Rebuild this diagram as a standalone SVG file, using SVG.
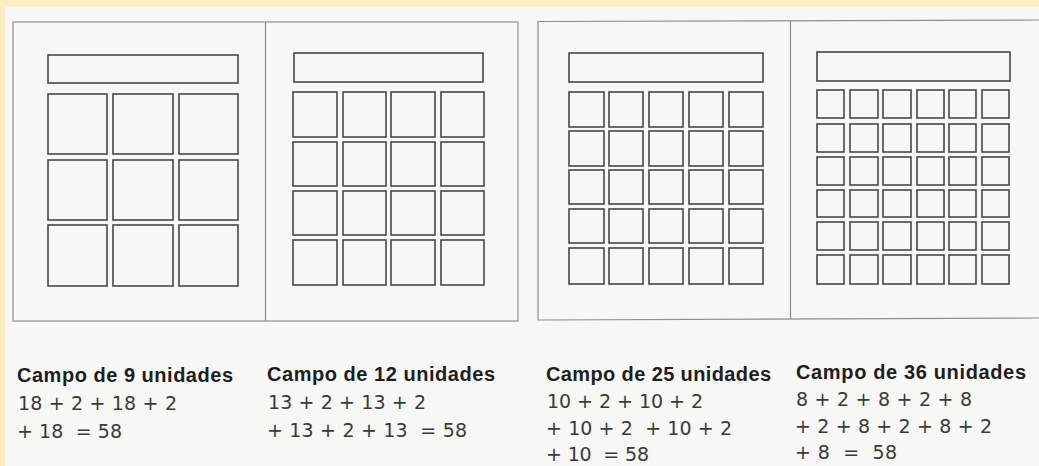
<svg xmlns="http://www.w3.org/2000/svg" width="1039" height="466" viewBox="0 0 1039 466">
  <style>
    .bg { fill: #f7f7f6; }
    .band { fill: #fcefc3; }
    .frame { fill: none; stroke: #8e8e8e; stroke-width: 1.2; }
    .cell { fill: none; stroke: #484848; stroke-width: 1.6; }
    .t { white-space: pre; }
    .b { font-family: "Liberation Sans", Arial, sans-serif; font-size: 20px; font-weight: bold; fill: #1e1e1e; }
    .r { font-family: "DejaVu Sans", "Liberation Sans", sans-serif; font-size: 19px; fill: #3a3a3a; }
  </style>
  <rect class="bg" x="0" y="0" width="1039" height="466"/>
  <rect class="band" x="0" y="0" width="1039" height="7"/>
  <rect class="band" x="0" y="0" width="5" height="466"/>

  <g id="frame-left">
    <rect class="frame" x="13" y="22" width="505" height="299"/>
    <line class="frame" x1="265.5" y1="22" x2="265.5" y2="321"/>
  </g>
  <g id="frame-right">
    <polyline class="frame" points="1039,20 538,21.5 538,320 1039,318"/>
    <line class="frame" x1="790.5" y1="21" x2="790.5" y2="319"/>
  </g>

  <g id="campo-9">
    <rect class="cell" x="48" y="55" width="190" height="28"/>
    <rect class="cell" x="48" y="94" width="59" height="60"/>
    <rect class="cell" x="113" y="94" width="60" height="60"/>
    <rect class="cell" x="179" y="94" width="59" height="60"/>
    <rect class="cell" x="48" y="160" width="59" height="60"/>
    <rect class="cell" x="113" y="160" width="60" height="60"/>
    <rect class="cell" x="179" y="160" width="59" height="60"/>
    <rect class="cell" x="48" y="225" width="59" height="61"/>
    <rect class="cell" x="113" y="225" width="60" height="61"/>
    <rect class="cell" x="179" y="225" width="59" height="61"/>
  </g>

  <g id="campo-12">
    <rect class="cell" x="294" y="53" width="189" height="29"/>
    <rect class="cell" x="293" y="92" width="44" height="45"/>
    <rect class="cell" x="343" y="92" width="43" height="45"/>
    <rect class="cell" x="391" y="92" width="44" height="45"/>
    <rect class="cell" x="441" y="92" width="43" height="45"/>
    <rect class="cell" x="293" y="142" width="44" height="44"/>
    <rect class="cell" x="343" y="142" width="43" height="44"/>
    <rect class="cell" x="391" y="142" width="44" height="44"/>
    <rect class="cell" x="441" y="142" width="43" height="44"/>
    <rect class="cell" x="293" y="191" width="44" height="44"/>
    <rect class="cell" x="343" y="191" width="43" height="44"/>
    <rect class="cell" x="391" y="191" width="44" height="44"/>
    <rect class="cell" x="441" y="191" width="43" height="44"/>
    <rect class="cell" x="293" y="240" width="44" height="45"/>
    <rect class="cell" x="343" y="240" width="43" height="45"/>
    <rect class="cell" x="391" y="240" width="44" height="45"/>
    <rect class="cell" x="441" y="240" width="43" height="45"/>
  </g>

  <g id="campo-25">
    <rect class="cell" x="569" y="53" width="194" height="29"/>
    <g id="c25-row1">
      <rect class="cell" x="569" y="92" width="35" height="35"/>
      <rect class="cell" x="609" y="92" width="34" height="35"/>
      <rect class="cell" x="649" y="92" width="34" height="35"/>
      <rect class="cell" x="689" y="92" width="34" height="35"/>
      <rect class="cell" x="729" y="92" width="34" height="35"/>
    </g>
    <g id="c25-row2">
      <rect class="cell" x="569" y="131" width="35" height="35"/>
      <rect class="cell" x="609" y="131" width="34" height="35"/>
      <rect class="cell" x="649" y="131" width="34" height="35"/>
      <rect class="cell" x="689" y="131" width="34" height="35"/>
      <rect class="cell" x="729" y="131" width="34" height="35"/>
    </g>
    <g id="c25-row3">
      <rect class="cell" x="569" y="170" width="35" height="34"/>
      <rect class="cell" x="609" y="170" width="34" height="34"/>
      <rect class="cell" x="649" y="170" width="34" height="34"/>
      <rect class="cell" x="689" y="170" width="34" height="34"/>
      <rect class="cell" x="729" y="170" width="34" height="34"/>
    </g>
    <g id="c25-row4">
      <rect class="cell" x="569" y="209" width="35" height="34"/>
      <rect class="cell" x="609" y="209" width="34" height="34"/>
      <rect class="cell" x="649" y="209" width="34" height="34"/>
      <rect class="cell" x="689" y="209" width="34" height="34"/>
      <rect class="cell" x="729" y="209" width="34" height="34"/>
    </g>
    <g id="c25-row5">
      <rect class="cell" x="569" y="248" width="35" height="36"/>
      <rect class="cell" x="609" y="248" width="34" height="36"/>
      <rect class="cell" x="649" y="248" width="34" height="36"/>
      <rect class="cell" x="689" y="248" width="34" height="36"/>
      <rect class="cell" x="729" y="248" width="34" height="36"/>
    </g>
  </g>

  <g id="campo-36">
    <rect class="cell" x="817" y="52" width="193" height="29"/>
    <g id="c36-row1">
      <rect class="cell" x="817" y="90" width="27" height="28"/>
      <rect class="cell" x="850" y="90" width="28" height="28"/>
      <rect class="cell" x="883" y="90" width="28" height="28"/>
      <rect class="cell" x="917" y="90" width="27" height="28"/>
      <rect class="cell" x="949" y="90" width="27" height="28"/>
      <rect class="cell" x="982" y="90" width="27" height="28"/>
    </g>
    <g id="c36-row2">
      <rect class="cell" x="817" y="124" width="27" height="28"/>
      <rect class="cell" x="850" y="124" width="28" height="28"/>
      <rect class="cell" x="883" y="124" width="28" height="28"/>
      <rect class="cell" x="917" y="124" width="27" height="28"/>
      <rect class="cell" x="949" y="124" width="27" height="28"/>
      <rect class="cell" x="982" y="124" width="27" height="28"/>
    </g>
    <g id="c36-row3">
      <rect class="cell" x="817" y="157" width="27" height="28"/>
      <rect class="cell" x="850" y="157" width="28" height="28"/>
      <rect class="cell" x="883" y="157" width="28" height="28"/>
      <rect class="cell" x="917" y="157" width="27" height="28"/>
      <rect class="cell" x="949" y="157" width="27" height="28"/>
      <rect class="cell" x="982" y="157" width="27" height="28"/>
    </g>
    <g id="c36-row4">
      <rect class="cell" x="817" y="190" width="27" height="27"/>
      <rect class="cell" x="850" y="190" width="28" height="27"/>
      <rect class="cell" x="883" y="190" width="28" height="27"/>
      <rect class="cell" x="917" y="190" width="27" height="27"/>
      <rect class="cell" x="949" y="190" width="27" height="27"/>
      <rect class="cell" x="982" y="190" width="27" height="27"/>
    </g>
    <g id="c36-row5">
      <rect class="cell" x="817" y="222" width="27" height="28"/>
      <rect class="cell" x="850" y="222" width="28" height="28"/>
      <rect class="cell" x="883" y="222" width="28" height="28"/>
      <rect class="cell" x="917" y="222" width="27" height="28"/>
      <rect class="cell" x="949" y="222" width="27" height="28"/>
      <rect class="cell" x="982" y="222" width="27" height="28"/>
    </g>
    <g id="c36-row6">
      <rect class="cell" x="817" y="255" width="27" height="29"/>
      <rect class="cell" x="850" y="255" width="28" height="29"/>
      <rect class="cell" x="883" y="255" width="28" height="29"/>
      <rect class="cell" x="917" y="255" width="27" height="29"/>
      <rect class="cell" x="949" y="255" width="27" height="29"/>
      <rect class="cell" x="982" y="255" width="27" height="29"/>
    </g>
  </g>

  <g id="label-9">
    <text class="t b" x="17" y="382" textLength="216" lengthAdjust="spacing">Campo de 9 unidades</text>
    <text class="t r" x="18" y="410" textLength="159" lengthAdjust="spacing">18 + 2 + 18 + 2</text>
    <text class="t r" x="17" y="438" textLength="105" lengthAdjust="spacing">+ 18  = 58</text>
  </g>
  <g id="label-12">
    <text class="t b" x="267" y="381" textLength="228" lengthAdjust="spacing">Campo de 12 unidades</text>
    <text class="t r" x="268" y="409" textLength="158" lengthAdjust="spacing">13 + 2 + 13 + 2</text>
    <text class="t r" x="267" y="437" textLength="200" lengthAdjust="spacing">+ 13 + 2 + 13  = 58</text>
  </g>
  <g id="label-25">
    <text class="t b" x="546" y="381" textLength="225" lengthAdjust="spacing">Campo de 25 unidades</text>
    <text class="t r" x="547" y="408" textLength="156" lengthAdjust="spacing">10 + 2 + 10 + 2</text>
    <text class="t r" x="546" y="435" textLength="186" lengthAdjust="spacing">+ 10 + 2  + 10 + 2</text>
    <text class="t r" x="546" y="461" textLength="103" lengthAdjust="spacing">+ 10  = 58</text>
  </g>
  <g id="label-36">
    <text class="t b" x="796" y="379" textLength="230" lengthAdjust="spacing">Campo de 36 unidades</text>
    <text class="t r" x="796" y="406" textLength="176" lengthAdjust="spacing">8 + 2 + 8 + 2 + 8</text>
    <text class="t r" x="795" y="433" textLength="197" lengthAdjust="spacing">+ 2 + 8 + 2 + 8 + 2</text>
    <text class="t r" x="795" y="459" textLength="102" lengthAdjust="spacing">+ 8  =  58</text>
  </g>
</svg>
